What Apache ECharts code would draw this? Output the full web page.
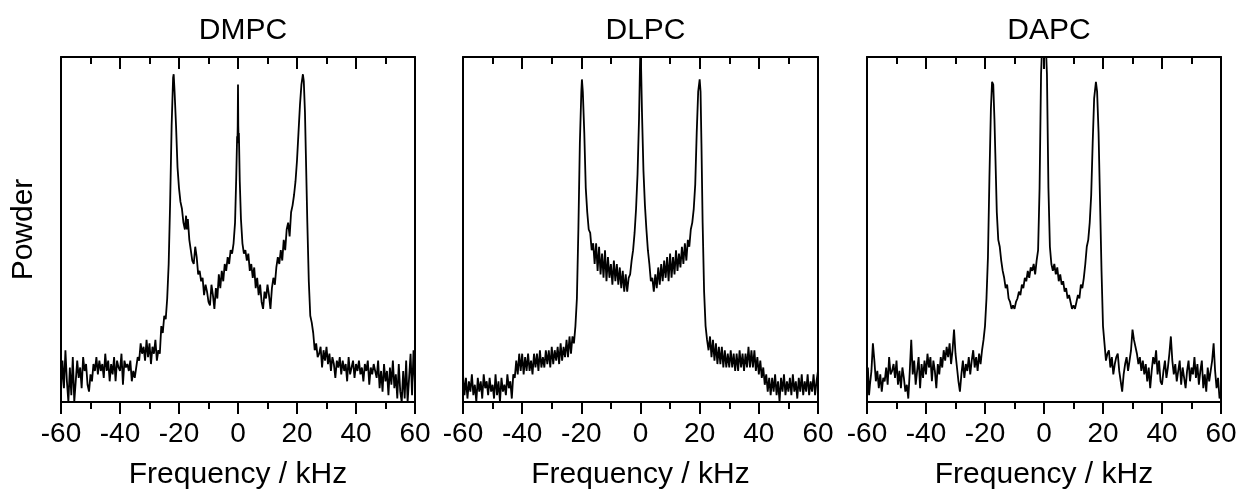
<!DOCTYPE html>
<html>
<head>
<meta charset="utf-8">
<script src="https://cdn.jsdelivr.net/npm/echarts@6/dist/echarts.min.js"></script>
<style>html,body{margin:0;padding:0;background:#fff;}#c{width:1241px;height:495px;}</style>
</head>
<body>
<div id="c"></div>
<script>
const panelTitles = ['DMPC', 'DLPC', 'DAPC'];
const xTicks = [-60, -40, -20, 0, 20, 40, 60];
const xName = 'Frequency / kHz';
const yName = 'Powder';

// [frequency kHz, relative intensity]
const dmpc = [
[-60,3],[-59.5,12],[-59,4],[-58.5,15],[-58,6],[-57.5,0],[-57,10],[-56.5,2],[-56,13],[-55.5,0],[-55,6],[-54.5,12],[-54,7],[-53.5,10],[-53,4],[-52.5,13],[-52,9],[-51.5,11],[-51,5],[-50.5,3],[-50,8],[-49.5,6],[-49,11],[-48.5,9],[-48,13],[-47.5,8],[-47,12],[-46.5,9],[-46,11],[-45.5,7],[-45,14],[-44.5,9],[-44,12],[-43.5,6],[-43,11],[-42.5,8],[-42,13],[-41.5,6],[-41,12],[-40.5,10],[-40,9],[-39.5,14],[-39,5],[-38.5,12],[-38,10],[-37.5,11],[-37,9],[-36.5,12],[-36,6],[-35.5,9],[-35,7],[-34.5,10],[-34,13],[-33.5,12],[-33,17],[-32.5,14],[-32,16],[-31.5,12],[-31,18],[-30.5,13],[-30,17],[-29.5,11],[-29,16],[-28.5,14],[-28,18],[-27.5,12],[-27,15],[-26.5,14],[-26,22],[-25.5,20],[-25,25],[-24.5,24],[-24,30],[-23.5,40],[-23,58],[-22.5,80],[-22,94],[-21.8,95],[-21.5,90],[-21,80],[-20.5,68],[-20,62],[-19.5,58],[-19,56],[-18.5,52],[-18,50],[-17.6,54],[-17.3,50],[-17,53],[-16.5,47],[-16,44],[-15.5,41],[-15,40],[-14.5,45],[-14,42],[-13.5,37],[-13,38],[-12.5,35],[-12,36],[-11.5,31],[-11,34],[-10.5,32],[-10,29],[-9.5,28],[-9,34],[-8.5,31],[-8,27],[-7.5,33],[-7,30],[-6.5,37],[-6,33],[-5.5,38],[-5,35],[-4.5,40],[-4,38],[-3.5,42],[-3,40],[-2.5,44],[-2,43],[-1.5,46],[-1,52],[-0.6,65],[-0.3,77],[-0.2,75],[-0.1,80],[0,92],[0.1,80],[0.2,76],[0.3,78],[0.6,64],[1,53],[1.5,46],[2,43],[2.5,44],[3,41],[3.5,43],[4,38],[4.5,40],[5,36],[5.5,39],[6,33],[6.5,36],[7,31],[7.5,34],[8,29],[8.5,27],[9,32],[9.5,30],[10,34],[10.5,31],[11,27],[11.5,33],[12,36],[12.5,34],[13,39],[13.5,42],[14,40],[14.5,44],[15,41],[15.5,47],[16,44],[16.5,50],[17,52],[17.5,48],[18,55],[18.5,57],[19,60],[19.5,64],[20,70],[20.5,78],[21,86],[21.5,92],[22,95],[22.3,93],[22.7,84],[23,72],[23.5,52],[24,35],[24.5,25],[25,23],[25.5,20],[26,15],[26.5,17],[27,13],[27.5,14],[28,16],[28.5,10],[29,15],[29.5,12],[30,16],[30.5,11],[31,14],[31.5,9],[32,13],[32.5,11],[33,7],[33.5,12],[34,10],[34.5,13],[35,8],[35.5,12],[36,9],[36.5,11],[37,6],[37.5,13],[38,8],[38.5,10],[39,12],[39.5,7],[40,11],[40.5,9],[41,12],[41.5,8],[42,10],[42.5,6],[43,11],[43.5,9],[44,12],[44.5,5],[45,10],[45.5,8],[46,11],[46.5,9],[47,7],[47.5,12],[48,4],[48.5,9],[49,3],[49.5,11],[50,6],[50.5,9],[51,2],[51.5,10],[52,5],[52.5,12],[53,4],[53.5,8],[54,1],[54.5,11],[55,3],[55.5,0],[56,9],[56.5,1],[57,12],[57.5,0],[58,7],[58.5,14],[59,2],[59.5,15],[60,5]
];

const dlpc = [
[-60,8],[-59.5,2],[-59,7],[-58.5,1],[-58,6],[-57.5,3],[-57,8],[-56.5,2],[-56,5],[-55.5,0],[-55,7],[-54.5,3],[-54,6],[-53.5,1],[-53,8],[-52.5,4],[-52,6],[-51.5,2],[-51,7],[-50.5,3],[-50,5],[-49.5,1],[-49,8],[-48.5,2],[-48,6],[-47.5,0],[-47,7],[-46.5,3],[-46,5],[-45.5,2],[-45,8],[-44.5,4],[-44,6],[-43.5,1],[-43,8],[-42.5,7],[-42,12],[-41.5,8],[-41,14],[-40.5,9],[-40,14],[-39.5,8],[-39,13],[-38.5,9],[-38,14],[-37.5,9],[-37,12],[-36.5,8],[-36,14],[-35.5,10],[-35,14],[-34.5,9],[-34,15],[-33.5,10],[-33,13],[-32.5,10],[-32,15],[-31.5,11],[-31,15],[-30.5,10],[-30,16],[-29.5,11],[-29,15],[-28.5,12],[-28,16],[-27.5,11],[-27,17],[-26.5,12],[-26,16],[-25.5,13],[-25,18],[-24.5,13],[-24,19],[-23.5,14],[-23,19],[-22.5,17],[-22,22],[-21.5,30],[-21,50],[-20.5,75],[-20,90],[-19.8,93.5],[-19.5,90],[-19,78],[-18.5,62],[-18,55],[-17.5,50],[-17,49],[-16.5,44],[-16,46],[-15.5,40],[-15,46],[-14.5,38],[-14,45],[-13.5,37],[-13,43],[-12.5,36],[-12,44],[-11.5,35],[-11,42],[-10.5,36],[-10,40],[-9.5,34],[-9,41],[-8.5,35],[-8,40],[-7.5,34],[-7,39],[-6.5,33],[-6,38],[-5.5,32],[-5,37],[-4.5,32],[-4,36],[-3.5,37],[-3,41],[-2.5,44],[-2,49],[-1.5,56],[-1,66],[-0.5,82],[-0.2,96],[0,104],[0.2,97],[0.5,84],[1,67],[1.5,57],[2,50],[2.5,44],[3,40],[3.5,35],[4,36],[4.5,32],[5,37],[5.5,33],[6,39],[6.5,34],[7,40],[7.5,35],[8,41],[8.5,36],[9,42],[9.5,35],[10,43],[10.5,36],[11,42],[11.5,37],[12,44],[12.5,38],[13,43],[13.5,39],[14,45],[14.5,40],[15,46],[15.5,41],[16,47],[16.5,45],[17,50],[17.5,52],[18,56],[18.5,63],[19,78],[19.5,90],[20,93.5],[20.3,90],[20.6,75],[21,52],[21.5,32],[22,22],[22.5,18],[23,15],[23.5,19],[24,13],[24.5,18],[25,12],[25.5,17],[26,11],[26.5,16],[27,11],[27.5,16],[28,10],[28.5,15],[29,10],[29.5,14],[30,10],[30.5,15],[31,10],[31.5,14],[32,9],[32.5,14],[33,9],[33.5,15],[34,10],[34.5,14],[35,9],[35.5,14],[36,10],[36.5,16],[37,10],[37.5,15],[38,10],[38.5,15],[39,9],[39.5,13],[40,8],[40.5,12],[41,7],[41.5,10],[42,5],[42.5,8],[43,3],[43.5,7],[44,2],[44.5,7],[45,3],[45.5,8],[46,2],[46.5,6],[47,0],[47.5,7],[48,3],[48.5,8],[49,2],[49.5,6],[50,3],[50.5,7],[51,2],[51.5,8],[52,3],[52.5,6],[53,1],[53.5,7],[54,3],[54.5,8],[55,2],[55.5,6],[56,3],[56.5,8],[57,2],[57.5,6],[58,3],[58.5,8],[59,2],[59.5,6],[60,9]
];

const dapc = [
[-60,1],[-59.7,10],[-59.3,2],[-59,5],[-58.5,9],[-58,17],[-57.5,12],[-57,6],[-56.5,9],[-56,4],[-55.5,8],[-55,3],[-54.5,7],[-54,6],[-53.5,10],[-53,5],[-52.5,13],[-52,8],[-51.5,9],[-51,11],[-50.5,7],[-50,12],[-49.5,5],[-49,9],[-48.5,4],[-48,10],[-47.5,7],[-47,3],[-46.5,5],[-46,1],[-45.5,9],[-45,18],[-44.5,8],[-44,12],[-43.5,5],[-43,9],[-42.5,13],[-42,4],[-41.5,11],[-41,7],[-40.5,12],[-40,8],[-39.5,14],[-39,10],[-38.5,13],[-38,6],[-37.5,12],[-37,9],[-36.5,4],[-36,11],[-35.5,8],[-35,13],[-34.5,10],[-34,15],[-33.5,12],[-33,16],[-32.5,13],[-32,17],[-31.5,11],[-31,15],[-30.5,21],[-30,14],[-29.5,10],[-29,6],[-28.5,3],[-28,8],[-27.5,12],[-27,7],[-26.5,11],[-26,9],[-25.5,13],[-25,8],[-24.5,12],[-24,15],[-23.5,10],[-23,13],[-22.5,9],[-22,14],[-21.5,11],[-21,15],[-20.5,18],[-20,22],[-19.5,30],[-19,42],[-18.5,65],[-18,85],[-17.6,92.8],[-17.2,92],[-16.8,82],[-16.5,72],[-16,55],[-15.5,47],[-15,45],[-14.5,41],[-14,38],[-13.5,36],[-13,33],[-12.5,34],[-12,30],[-11.5,29],[-11,27],[-10.5,28],[-10,27],[-9.5,29],[-9,30],[-8.5,32],[-8,31],[-7.5,34],[-7,33],[-6.5,36],[-6,35],[-5.5,38],[-5,36],[-4.5,39],[-4,38],[-3.5,40],[-3,37],[-2.5,41],[-2,44],[-1.5,62],[-1,95],[-0.5,106],[0,110],[0.5,106],[1,95],[1.5,62],[2,45],[2.5,40],[3,38],[3.5,40],[4,37],[4.5,39],[5,35],[5.5,37],[6,34],[6.5,35],[7,32],[7.5,33],[8,30],[8.5,31],[9,29],[9.5,27],[10,28],[10.5,27],[11,29],[11.5,31],[12,30],[12.5,34],[13,33],[13.5,36],[14,40],[14.5,45],[15,47],[15.5,52],[16,60],[16.5,75],[17,88],[17.6,92.8],[18,90],[18.5,78],[19,58],[19.5,38],[20,22],[20.5,17],[21,12],[21.5,14],[22,15],[22.5,10],[23,13],[23.5,8],[24,11],[24.5,13],[25,14],[25.5,9],[26,6],[26.5,3],[27,8],[27.5,11],[28,13],[28.5,9],[29,12],[29.5,15],[30,21],[30.5,18],[31,16],[31.5,14],[32,11],[32.5,13],[33,9],[33.5,12],[34,8],[34.5,11],[35,6],[35.5,10],[36,4],[36.5,9],[37,13],[37.5,11],[38,15],[38.5,8],[39,12],[39.5,6],[40,5],[40.5,9],[41,12],[41.5,7],[42,10],[42.5,14],[43,19],[43.5,12],[44,8],[44.5,11],[45,6],[45.5,9],[46,12],[46.5,5],[47,10],[47.5,7],[48,4],[48.5,9],[49,12],[49.5,6],[50,10],[50.5,8],[51,13],[51.5,7],[52,11],[52.5,5],[53,9],[53.5,12],[54,4],[54.5,8],[55,3],[55.5,10],[56,6],[56.5,9],[57,12],[57.5,17],[58,9],[58.5,4],[59,7],[59.5,1],[60,3]
];

const seriesData = [dmpc, dlpc, dapc];
const FONT = '"Liberation Sans", Arial, sans-serif';
const gridBoxes = [
  {left: 61, top: 57, width: 354, height: 351},
  {left: 463, top: 57, width: 355, height: 351},
  {left: 867, top: 57, width: 354, height: 351}
];

const chart = echarts.init(document.getElementById('c'), null, {renderer: 'canvas'});
const option = {
  animation: false,
  backgroundColor: '#fff',
  title: [], grid: [], xAxis: [], yAxis: [], series: []
};
const interval = xTicks[1] - xTicks[0];
gridBoxes.forEach((g, i) => {
  option.grid.push(Object.assign({containLabel: false}, g));
  option.title.push({
    text: panelTitles[i],
    left: g.left + g.width / 2,
    top: 11,
    textAlign: 'center',
    textStyle: {fontFamily: FONT, fontSize: 30, fontWeight: 'normal', color: '#000'}
  });
  option.xAxis.push({
    type: 'value', gridIndex: i, position: 'bottom',
    min: xTicks[0], max: xTicks[xTicks.length - 1], interval: interval,
    name: xName, nameLocation: 'middle', nameGap: 58,
    nameTextStyle: {fontFamily: FONT, fontSize: 30, color: '#000'},
    axisLine: {show: true, onZero: false, lineStyle: {color: '#000', width: 2}},
    axisTick: {show: true, inside: false, length: 12, lineStyle: {color: '#000', width: 2}},
    minorTick: {show: true, splitNumber: 2, length: 7, lineStyle: {color: '#000', width: 2}},
    axisLabel: {show: true, margin: 18, fontFamily: FONT, fontSize: 28, color: '#000', showMinLabel: true, showMaxLabel: true},
    splitLine: {show: false}
  });
  option.xAxis.push({
    type: 'value', gridIndex: i, position: 'top',
    min: xTicks[0], max: xTicks[xTicks.length - 1], interval: interval,
    axisLine: {show: true, onZero: false, lineStyle: {color: '#000', width: 2}},
    axisTick: {show: true, inside: true, length: 12, lineStyle: {color: '#000', width: 2}},
    minorTick: {show: true, splitNumber: 2, length: 7, lineStyle: {color: '#000', width: 2}},
    axisLabel: {show: false}, splitLine: {show: false}
  });
  option.yAxis.push({
    type: 'value', gridIndex: i, position: 'left', min: 0, max: 100,
    name: i === 0 ? yName : '', nameLocation: 'middle', nameGap: 22,
    nameTextStyle: {fontFamily: FONT, fontSize: 30, color: '#000'},
    axisLine: {show: true, onZero: false, lineStyle: {color: '#000', width: 2}},
    axisTick: {show: false}, axisLabel: {show: false}, splitLine: {show: false}
  });
  option.yAxis.push({
    type: 'value', gridIndex: i, position: 'right', min: 0, max: 100,
    axisLine: {show: true, onZero: false, lineStyle: {color: '#000', width: 2}},
    axisTick: {show: false}, axisLabel: {show: false}, splitLine: {show: false}
  });
  option.series.push({
    type: 'line', xAxisIndex: i * 2, yAxisIndex: i * 2,
    data: seriesData[i], showSymbol: false, symbol: 'none', clip: true,
    lineStyle: {color: '#000', width: 1.8}, z: 3
  });
});
chart.setOption(option);
</script>
</body>
</html>
